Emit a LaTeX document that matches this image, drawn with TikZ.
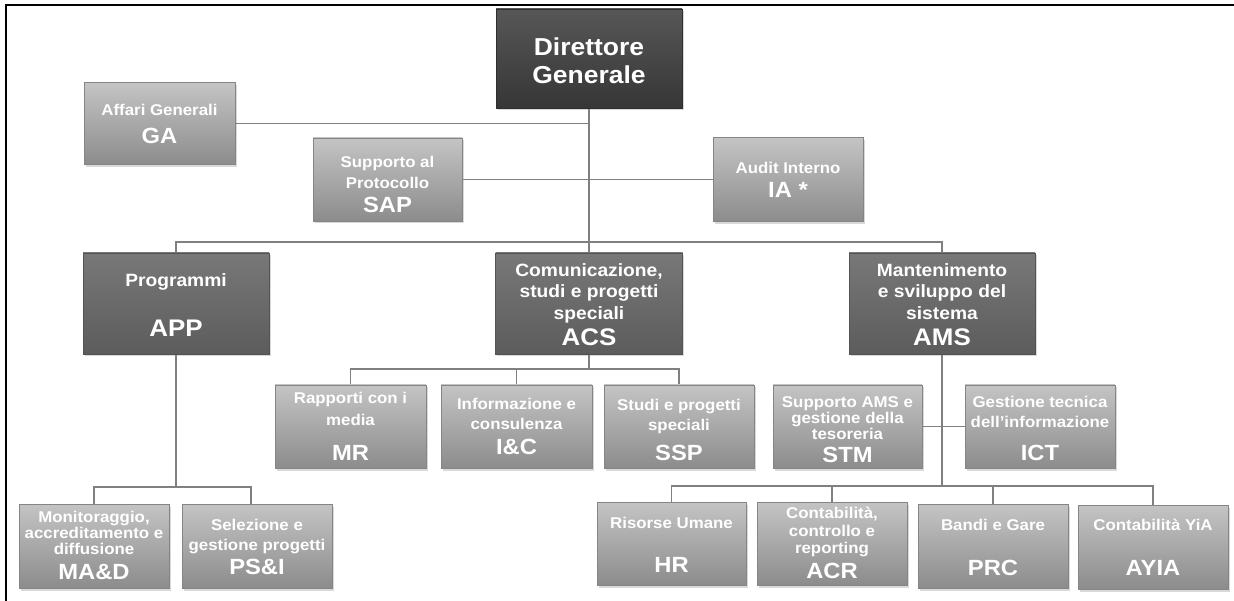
\documentclass[tikz,border=0pt]{standalone}
\usepackage{fontspec}
\setmainfont{Liberation Sans}[FakeStretch=1.08]
\usetikzlibrary{shadows}
\pgfdeclarelayer{bg}
\pgfsetlayers{bg,main}
\definecolor{dgtop}{HTML}{575757}
\definecolor{dgbot}{HTML}{363636}
\definecolor{midtop}{HTML}{787878}
\definecolor{midbot}{HTML}{5C5C5C}
\definecolor{smtop}{HTML}{C4C4C4}
\definecolor{smbot}{HTML}{8C8C8C}
\definecolor{linec}{HTML}{808080}
\newcommand{\fz}[2]{\fontsize{#1}{#2}\selectfont}
\tikzset{
  boxbase/.style={rectangle, inner sep=0pt, outer sep=0pt, line width=0.6pt,
    drop shadow={opacity=0.3, shadow xshift=1.5pt, shadow yshift=-2.5pt}},
  dgbox/.style={boxbase, draw=dgbot!85!black, top color=dgtop, bottom color=dgbot},
  midbox/.style={boxbase, draw=midbot!90!black, top color=midtop, bottom color=midbot},
  smbox/.style={boxbase, draw=smbot!95!black, top color=smtop, bottom color=smbot},
  txt/.style={text=white, align=center, inner sep=0pt, outer sep=0pt, anchor=north},
  conn/.style={draw=linec, line width=1.1pt},
}
\begin{document}
\begin{tikzpicture}[x=1pt,y=-1pt]
\useasboundingbox (0,0) rectangle (1234,601);
% frame
\draw[line width=2.5pt] (6,601) -- (6,5) -- (1234,5);

% boxes
\node[dgbox, minimum width=186pt, minimum height=99pt] (dg) at (589,58.5) {};
\node[smbox, minimum width=151pt, minimum height=82pt] (ga) at (159.5,123.5) {};
\node[smbox, minimum width=149pt, minimum height=83pt] (sap) at (387.5,179.5) {};
\node[smbox, minimum width=150pt, minimum height=84pt] (ia) at (788,179.5) {};
\node[midbox, minimum width=186pt, minimum height=101pt] (app) at (176,303.5) {};
\node[midbox, minimum width=187pt, minimum height=101pt] (acs) at (589,303.5) {};
\node[midbox, minimum width=186pt, minimum height=101pt] (ams) at (942,303.5) {};
\node[smbox, minimum width=151pt, minimum height=83pt] (mr) at (350.5,426.5) {};
\node[smbox, minimum width=151pt, minimum height=83pt] (ic) at (516.5,426.5) {};
\node[smbox, minimum width=150pt, minimum height=83pt] (ssp) at (679,426.5) {};
\node[smbox, minimum width=149pt, minimum height=83pt] (stm) at (847.5,426.5) {};
\node[smbox, minimum width=150pt, minimum height=83pt] (ict) at (1040,426.5) {};
\node[smbox, minimum width=150pt, minimum height=84pt] (mad) at (94,546) {};
\node[smbox, minimum width=150pt, minimum height=84pt] (psi) at (257,546) {};
\node[smbox, minimum width=149pt, minimum height=83pt] (hr) at (671.5,543.5) {};
\node[smbox, minimum width=150pt, minimum height=83pt] (acr) at (832,543.5) {};
\node[smbox, minimum width=150pt, minimum height=84pt] (prc) at (993,546) {};
\node[smbox, minimum width=150pt, minimum height=84pt] (ayia) at (1153,547) {};

% texts
\node[txt, font=\bfseries\fz{24.5}{28}] (dg-t) at (589,37.5) {Direttore\\Generale};
\node[txt, font=\bfseries\fz{15.6}{20}] (ga-t) at (159.5,104.6) {Affari Generali\\[7.5pt]{\fz{22}{20}GA}};
\node[txt, font=\bfseries\fz{15.6}{21}] (sap-t) at (387.5,156.4) {Supporto al\\Protocollo\\[2.8pt]{\fz{22}{20}SAP}};
\node[txt, font=\bfseries\fz{15.6}{20}] (ia-t) at (788,162.4) {Audit Interno\\[3.8pt]{\fz{22}{20}IA *}};
\node[txt, font=\bfseries\fz{17.8}{20}] (app-t) at (176,273.6) {Programmi\\[28.8pt]{\fz{24}{20}APP}};
\node[txt, font=\bfseries\fz{17.8}{21.5}] (acs-t) at (589,263.6) {Comunicazione,\\studi e progetti\\speciali\\[4.3pt]{\fz{24}{20}ACS}};
\node[txt, font=\bfseries\fz{17.8}{21.5}] (ams-t) at (942,263.6) {Mantenimento\\e sviluppo del\\sistema\\[4.3pt]{\fz{24}{20}AMS}};
\node[txt, font=\bfseries\fz{15.6}{22}] (mr-t) at (350.5,392.4) {Rapporti con i\\media\\[12.8pt]{\fz{22}{20}MR}};
\node[txt, font=\bfseries\fz{15.6}{20}] (ic-t) at (516.5,398.4) {Informazione e\\consulenza\\[4.8pt]{\fz{22}{20}I\&C}};
\node[txt, font=\bfseries\fz{15.6}{20}] (ssp-t) at (679,399.4) {Studi e progetti\\speciali\\[9.8pt]{\fz{22}{20}SSP}};
\node[txt, font=\bfseries\fz{15.6}{16}] (stm-t) at (847.5,396.4) {Supporto AMS e\\gestione della\\tesoreria\\[6.8pt]{\fz{22}{20}STM}};
\node[txt, font=\bfseries\fz{15.6}{20}] (ict-t) at (1040,396.4) {Gestione tecnica\\dell’informazione\\[12.8pt]{\fz{22}{20}ICT}};
\node[txt, font=\bfseries\fz{15.6}{15.8}] (mad-t) at (94,511.4) {Monitoraggio,\\accreditamento e\\diffusione\\[9.8pt]{\fz{22}{20}MA\&D}};
\node[txt, font=\bfseries\fz{15.6}{20}] (psi-t) at (257,519.4) {Selezione e\\gestione progetti\\[3.8pt]{\fz{22}{20}PS\&I}};
\node[txt, font=\bfseries\fz{15.6}{20}] (hr-t) at (671.5,517.4) {Risorse Umane\\[23.8pt]{\fz{22}{20}HR}};
\node[txt, font=\bfseries\fz{15.6}{17.5}] (acr-t) at (832,507.4) {Contabilità,\\controllo e\\reporting\\[5.3pt]{\fz{22}{20}ACR}};
\node[txt, font=\bfseries\fz{15.6}{20}] (prc-t) at (993,519.4) {Bandi e Gare\\[24.8pt]{\fz{22}{20}PRC}};
\node[txt, font=\bfseries\fz{15.6}{20}] (ayia-t) at (1153,519.4) {Contabilità YiA\\[24.8pt]{\fz{22}{20}AYIA}};

% junctions
\coordinate (j1) at (589,242);
\coordinate (appj) at (176,487);
\coordinate (acsj) at (589,369);
\coordinate (amsj) at (942,486);

\begin{pgfonlayer}{bg}
\draw[conn] (dg.south) -- (acs.north);
\draw[conn] (ga.east) -- (ga.east -| dg.south);
\draw[conn] (sap.east) -- (ia.west);
\draw[conn] (app.north) |- (j1) -| (ams.north);
\draw[conn] (app.south) -- (appj);
\draw[conn] (mad.north) |- (appj) -| ([xshift=-6pt]psi.north);
\draw[conn] (acs.south) -- (acsj);
\draw[conn] (mr.north) |- (acsj) -| (ssp.north);
\draw[conn] (ic.north) -- (ic.north |- acsj);
\draw[conn] (ams.south) -- (amsj);
\draw[conn] (stm.east) -- (ict.west);
\draw[conn] (hr.north) |- (amsj) -| (ayia.north);
\draw[conn] (acr.north) -- (acr.north |- amsj);
\draw[conn] (prc.north) -- (prc.north |- amsj);
\end{pgfonlayer}
\end{tikzpicture}
\end{document}
